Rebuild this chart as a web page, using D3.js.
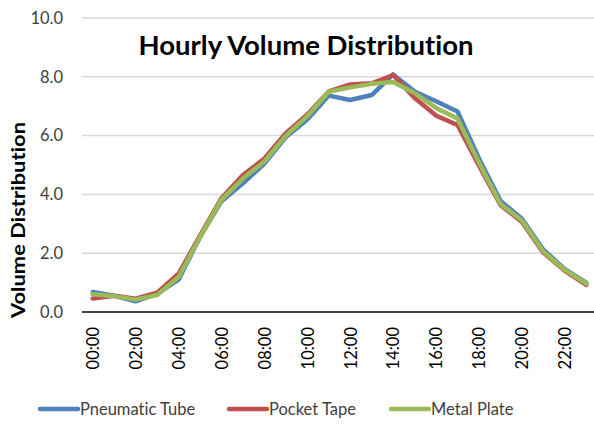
<!DOCTYPE html>
<html>
<head>
<meta charset="utf-8">
<script src="https://cdn.jsdelivr.net/npm/d3@7"></script>
<style>
  html, body { margin: 0; padding: 0; background: #fff; }
  svg { display: block; font-family: Lato, "Open Sans", sans-serif; font-variant-ligatures: none; font-feature-settings: "liga" 0; }
</style>
</head>
<body>
<svg id="chart" width="594" height="426"></svg>
<script>
// Hour-of-day categories
const hours = ["00:00","01:00","02:00","03:00","04:00","05:00","06:00","07:00",
               "08:00","09:00","10:00","11:00","12:00","13:00","14:00","15:00",
               "16:00","17:00","18:00","19:00","20:00","21:00","22:00","23:00"];

// Share of daily volume per hour (%), by counting method
const pneumaticTube = [0.68,0.55,0.36,0.62,1.10,2.55,3.77,4.38,5.05,5.95,6.55,7.36,
                       7.21,7.38,8.08,7.50,7.17,6.82,5.22,3.78,3.17,2.12,1.46,1.00];
const pocketTape    = [0.46,0.55,0.45,0.66,1.30,2.60,3.87,4.66,5.22,6.08,6.72,7.50,
                       7.74,7.78,8.06,7.28,6.68,6.36,4.98,3.64,3.06,2.02,1.40,0.92];
const metalPlate    = [0.60,0.54,0.42,0.58,1.19,2.55,3.82,4.54,5.12,6.00,6.66,7.49,
                       7.64,7.76,7.82,7.45,6.94,6.58,5.08,3.68,3.11,2.06,1.43,0.97];

const seriesNames  = ["Pneumatic Tube", "Pocket Tape", "Metal Plate"];
const seriesColors = ["#4F81BD", "#C0504D", "#9BBB59"];
const yTicks = [0, 2, 4, 6, 8, 10];
const xTickLabels = hours.filter((h, i) => i % 2 === 0);

const series = [pneumaticTube, pocketTape, metalPlate].map((values, i) => ({
  name: seriesNames[i], color: seriesColors[i], values
}));

const svg = d3.select("#chart");
const plot = { left: 82, right: 597, top: 18, bottom: 312 };

const x = d3.scalePoint().domain(hours).range([plot.left, plot.right]).padding(0.5);
const y = d3.scaleLinear().domain([0, 10]).range([plot.bottom, plot.top]);

// Horizontal gridlines
svg.append("g")
  .selectAll("line")
  .data(yTicks.filter(t => t > 0))
  .join("line")
  .attr("x1", plot.left).attr("x2", 594)
  .attr("y1", d => y(d)).attr("y2", d => y(d))
  .attr("stroke", "#D9D9D9").attr("stroke-width", 1.5);

// Y axis labels
const yAxis = d3.axisLeft(y).tickValues(yTicks).tickFormat(d3.format(".1f")).tickSize(0).tickPadding(0);
svg.append("g")
  .attr("transform", `translate(63,0)`)
  .call(yAxis)
  .call(g => g.select(".domain").remove())
  .selectAll("text")
  .attr("font-family", "Lato, sans-serif")
  .attr("font-size", 16.5)
  .attr("fill", "#404040");

// X axis baseline and rotated hour labels
const xAxis = d3.axisBottom(x).tickValues(xTickLabels).tickSize(0).tickPadding(0);
svg.append("g")
  .attr("transform", `translate(0,${plot.bottom})`)
  .call(xAxis)
  .call(g => g.select(".domain").remove())
  .selectAll("text")
  .attr("font-family", "Lato, sans-serif")
  .attr("font-size", 16.5)
  .attr("fill", "#000")
  .attr("text-anchor", "end")
  .attr("transform", "rotate(-90)")
  .attr("x", -15)
  .attr("y", 0)
  .attr("dy", "0.35em");

svg.append("line")
  .attr("x1", plot.left).attr("x2", 594)
  .attr("y1", plot.bottom).attr("y2", plot.bottom)
  .attr("stroke", "#000").attr("stroke-width", 1.5);

// Series lines
const line = d3.line()
  .x((d, i) => x(hours[i]))
  .y(d => y(d));

svg.append("g")
  .selectAll("path")
  .data(series)
  .join("path")
  .attr("d", d => line(d.values))
  .attr("fill", "none")
  .attr("stroke", d => d.color)
  .attr("stroke-width", 4.5)
  .attr("stroke-linejoin", "round")
  .attr("stroke-linecap", "round");

// Title
svg.append("text")
  .attr("x", 306).attr("y", 55)
  .attr("text-anchor", "middle")
  .attr("font-family", "Lato, sans-serif")
  .attr("font-weight", "bold")
  .attr("font-size", 27.5)
  .attr("fill", "#000")
  .text("Hourly Volume Distribution");

// Y axis title
svg.append("text")
  .attr("transform", `translate(25,${(122 + 318) / 2}) rotate(-90)`)
  .attr("text-anchor", "middle")
  .attr("font-family", "Lato, sans-serif")
  .attr("font-weight", "bold")
  .attr("font-size", 19)
  .attr("textLength", 196)
  .attr("lengthAdjust", "spacingAndGlyphs")
  .attr("fill", "#000")
  .text("Volume Distribution");

// Legend
const legendX = [40, 229, 391];
const legend = svg.append("g")
  .selectAll("g")
  .data(series)
  .join("g")
  .attr("transform", (d, i) => `translate(${legendX[i]},409)`);
legend.append("line")
  .attr("x1", 0).attr("x2", 38).attr("y1", 0).attr("y2", 0)
  .attr("stroke", d => d.color).attr("stroke-width", 4.5)
  .attr("stroke-linecap", "round");
legend.append("text")
  .attr("x", 40).attr("y", 0).attr("dy", "0.35em")
  .attr("font-family", "Lato, sans-serif")
  .attr("font-size", 16.5)
  .attr("fill", "#404040")
  .text(d => d.name);
</script>
</body>
</html>
